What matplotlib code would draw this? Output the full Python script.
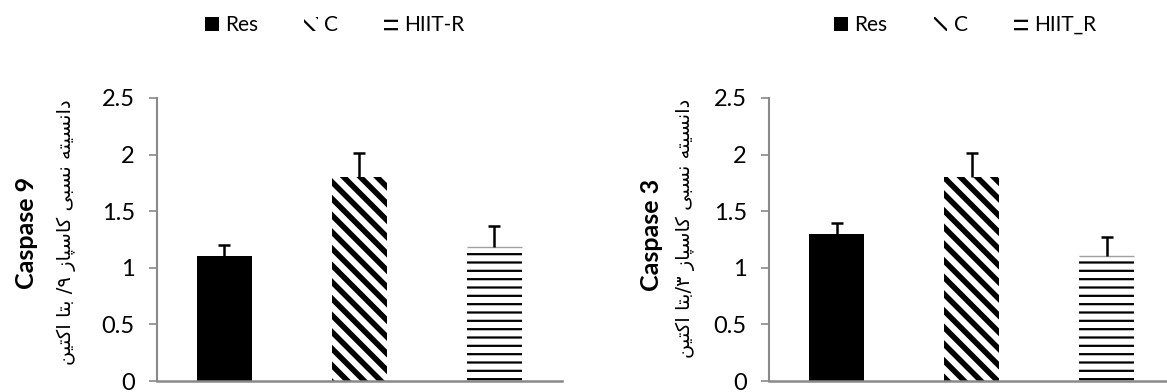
import matplotlib
matplotlib.use('Agg')
import matplotlib.pyplot as plt
from matplotlib.patches import Patch

plt.rcParams['font.family'] = ['Lato', 'DejaVu Sans']
plt.rcParams['hatch.color'] = 'black'
plt.rcParams['hatch.linewidth'] = 1.6

groups = ['Res', 'C', 'HIIT']
casp9_mean = [1.10, 1.80, 1.18]
casp9_err = [0.10, 0.21, 0.19]
casp3_mean = [1.30, 1.80, 1.10]
casp3_err = [0.10, 0.21, 0.17]
legend_left = ['Res', 'C', 'HIIT-R']
legend_right = ['Res', 'C', 'HIIT_R']
yticks = [0, 0.5, 1, 1.5, 2, 2.5]
ytick_labels = ['0', '0.5', '1', '1.5', '2', '2.5']

# persian labels, pre-shaped (presentation forms, visual order) since mpl has no bidi
w_aktin = '\uFEE6\uFBFF\uFE98\uFB90\uFE8D'
w_beta = '\uFE8E\uFE98\uFE91'
w_caspaz = '\uFEAF\uFE8E\uFB59\uFEB3\uFE8E\uFB90'
w_nesbi = '\uFBFD\uFE92\uFEB4\uFEE7'
w_density = '\uFEEA\uFE98\uFBFF\uFEB4\uFEE7\uFE8D\uFEA9'
fa_label9 = w_aktin + ' ' + w_beta + ' /\u06F9 ' + w_caspaz + ' ' + w_nesbi + ' ' + w_density
fa_label3 = w_aktin + ' ' + w_beta + '/\u06F3 ' + w_caspaz + ' ' + w_nesbi + ' ' + w_density

hatches = ['', '\\\\', '--']
hatch_lw = [1.0, 4.0, 1.6]
faces = ['black', 'white', 'white']
spine_col = '#898989'

fig = plt.figure(figsize=(11.67, 3.92), dpi=100)
ax1 = fig.add_axes([0.1345, 0.028, 0.347, 0.722])
ax2 = fig.add_axes([0.659, 0.028, 0.347, 0.722])


def set_hatch(p, h, lw):
    p.set_hatch(h)
    if hasattr(p, 'set_hatch_linewidth'):
        p.set_hatch_linewidth(lw)


def draw_panel(ax, means, errs):
    x = range(len(groups))
    bars = ax.bar(x, means, width=0.41, color=faces, edgecolor='black', linewidth=0)
    for b, h, lw in zip(bars, hatches, hatch_lw):
        set_hatch(b, h, lw)
    # thin grey line marking the top of the striped bar
    ax.hlines(means[2], 2 - 0.205, 2 + 0.205, color='#a0a0a0', linewidth=1.0)
    eb = ax.errorbar(x, means, yerr=[[0] * len(errs), errs], fmt='none', ecolor='black',
                     elinewidth=1.8, capsize=4.3, capthick=1.8)
    eb[1][0].set_visible(False)  # no lower cap
    ax.set_xlim(-0.5, 2.5)
    ax.set_ylim(0, 2.5)
    ax.set_yticks(yticks)
    ax.set_yticklabels(ytick_labels)
    ax.set_xticks([])
    ax.spines['top'].set_visible(False)
    ax.spines['right'].set_visible(False)
    ax.spines['left'].set_color(spine_col)
    ax.spines['bottom'].set_color(spine_col)
    ax.spines['left'].set_linewidth(1.5)
    ax.spines['bottom'].set_linewidth(1.8)
    ax.tick_params(axis='y', colors=spine_col, labelcolor='black', labelsize=17,
                   length=6, width=1.2, pad=10)
    return bars


bars1 = draw_panel(ax1, casp9_mean, casp9_err)
bars2 = draw_panel(ax2, casp3_mean, casp3_err)


def make_legend(labels, xc):
    handles = []
    for f, h, lw in zip(faces, hatches, hatch_lw):
        p = Patch(facecolor=f, edgecolor='black', linewidth=0)
        set_hatch(p, h, lw)
        handles.append(p)
    fig.legend(handles, labels, loc='center', bbox_to_anchor=(xc, 0.936), ncol=3,
               frameon=False, fontsize=15, handlelength=0.67, handleheight=0.65,
               handletextpad=0.3, columnspacing=2.2)


make_legend(legend_left, 0.287)
make_legend(legend_right, 0.827)

fig.text(0.023, 0.406, 'Caspase 9', rotation=90, ha='center', va='center',
         fontsize=18, fontweight='bold')
fig.text(0.057, 0.408, fa_label9, rotation=90, ha='center', va='center',
         fontsize=14, family=['DejaVu Sans'])
fig.text(0.558, 0.40, 'Caspase 3', rotation=90, ha='center', va='center',
         fontsize=18, fontweight='bold')
fig.text(0.587, 0.418, fa_label3, rotation=90, ha='center', va='center',
         fontsize=14, family=['DejaVu Sans'])

fig.savefig('out.png', dpi=100)
